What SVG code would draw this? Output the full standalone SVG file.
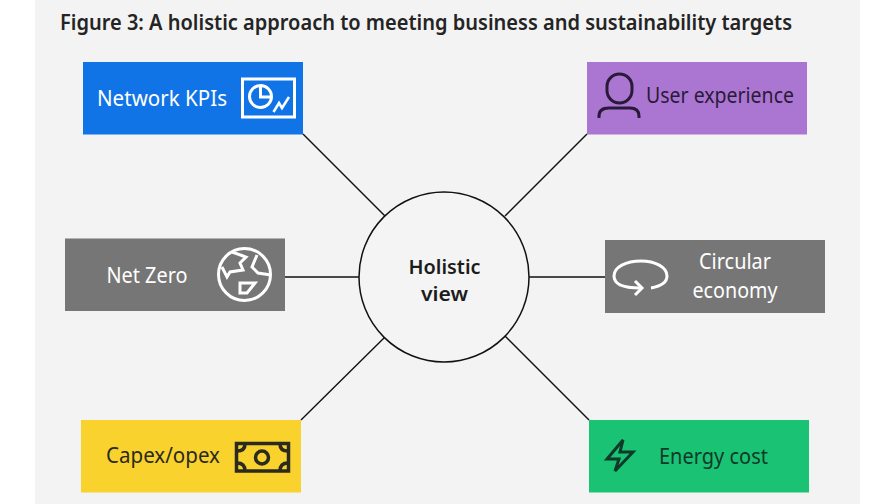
<svg xmlns="http://www.w3.org/2000/svg" width="896" height="504" viewBox="0 0 896 504">
<style>
text{font-family:"Noto Sans","Open Sans","Liberation Sans",sans-serif;font-size:21.5px}
.w{fill:#fff}.d{fill:#2a1a3a}.k{fill:#2a2a1e}.g{fill:#10392a}
.ic{fill:none;stroke-width:3;stroke-linejoin:miter}
.conn line{stroke:#111;stroke-width:1.4}
</style>
<rect width="896" height="504" fill="#fff"/>
<rect x="35" y="0" width="825" height="504" fill="#f3f3f3"/>
<text id="title" x="60" y="30" style="font-size:21px;font-weight:600" fill="#242424" textLength="732" lengthAdjust="spacingAndGlyphs">Figure 3: A holistic approach to meeting business and sustainability targets</text>
<g class="conn" id="connectors">
<line x1="303" y1="134" x2="385" y2="216"/>
<line x1="587" y1="134" x2="505" y2="216"/>
<line x1="285" y1="277" x2="359" y2="277"/>
<line x1="529" y1="277" x2="605" y2="277"/>
<line x1="301" y1="420" x2="385" y2="337"/>
<line x1="589" y1="420" x2="505" y2="336"/>
</g>
<g id="holistic">
<circle cx="444" cy="277" r="85" fill="#f4f4f4" stroke="#111" stroke-width="1.5"/>
<text x="444.500" y="273.500" text-anchor="middle" fill="#1c1c1c" style="font-weight:600;font-size:20.500px" textLength="72" lengthAdjust="spacingAndGlyphs">Holistic</text>
<text x="444.500" y="301" text-anchor="middle" fill="#1c1c1c" style="font-weight:600;font-size:20.500px" textLength="47" lengthAdjust="spacingAndGlyphs">view</text>
</g>
<g id="network-kpis">
<rect x="83" y="62" width="220" height="72.500" fill="#1174e6"/>
<text class="w" x="97" y="106" textLength="130" lengthAdjust="spacingAndGlyphs">Network KPIs</text>
<g class="ic" stroke="#fff">
<rect x="242.500" y="79" width="52" height="38"/>
<circle cx="260.500" cy="96.500" r="11"/>
<path d="M260.500 86V97H271.500"/>
<path d="M273.500 112L279 103L282 108L289 97" stroke-width="2.500"/>
</g>
</g>
<g id="user-experience">
<rect x="587" y="62" width="220" height="72.500" fill="#ab76d1"/>
<text class="d" x="646" y="102.500" textLength="148" lengthAdjust="spacingAndGlyphs">User experience</text>
<g class="ic" stroke="#2a1a3a">
<rect x="607" y="74" width="25" height="29" rx="12.500"/>
<path d="M599 118V116Q599 108 609 108H630Q639 108 639 116V118"/>
</g>
</g>
<g id="net-zero">
<rect x="65" y="238.500" width="220" height="72.500" fill="#767676"/>
<text class="w" x="147" y="282.500" text-anchor="middle" textLength="81" lengthAdjust="spacingAndGlyphs">Net Zero</text>
<g class="ic" stroke="#fff">
<circle cx="244.500" cy="274.500" r="26"/>
<path d="M232 252L246 257L240 263L243 270L230 272L227 277L222 267"/>
<path d="M257 255L252 267L258 273L271 275"/>
<path d="M240 283H255L247 293H240Z"/>
</g>
</g>
<g id="circular-economy">
<rect x="605" y="240" width="220" height="73" fill="#767676"/>
<text class="w" x="735" y="269" text-anchor="middle" textLength="72" lengthAdjust="spacingAndGlyphs">Circular</text>
<text class="w" x="735" y="298" text-anchor="middle" textLength="85" lengthAdjust="spacingAndGlyphs">economy</text>
<g class="ic" stroke="#fff">
<path d="M651 288C662 286 667 282 667 276C667 267 655 261 641 261C626 261 614 267 614 276C614 284 624 288 640 288"/>
<path d="M635 281L642 288L635 295"/>
</g>
</g>
<g id="capex-opex">
<rect x="81" y="420" width="220" height="72.500" fill="#fad22d"/>
<text class="k" x="106" y="463" textLength="114" lengthAdjust="spacingAndGlyphs">Capex/opex</text>
<g class="ic" stroke="#2a2a1e" style="stroke-width:3.500">
<rect x="236.500" y="443.500" width="52" height="27.500"/>
<circle cx="262" cy="457.500" r="6.500"/>
<path d="M237 451Q245 451 245 444M288 451Q280 451 280 444M237 463Q245 463 245 471M288 463Q280 463 280 471"/>
</g>
</g>
<g id="energy-cost">
<rect x="589" y="420" width="220" height="72.500" fill="#19c373"/>
<text class="g" x="659" y="464" textLength="109" lengthAdjust="spacingAndGlyphs">Energy cost</text>
<path class="ic" stroke="#10392a" stroke-width="2.500" d="M623 440L607 459H619L615 471L633 452H620Z"/>
</g>
</svg>
